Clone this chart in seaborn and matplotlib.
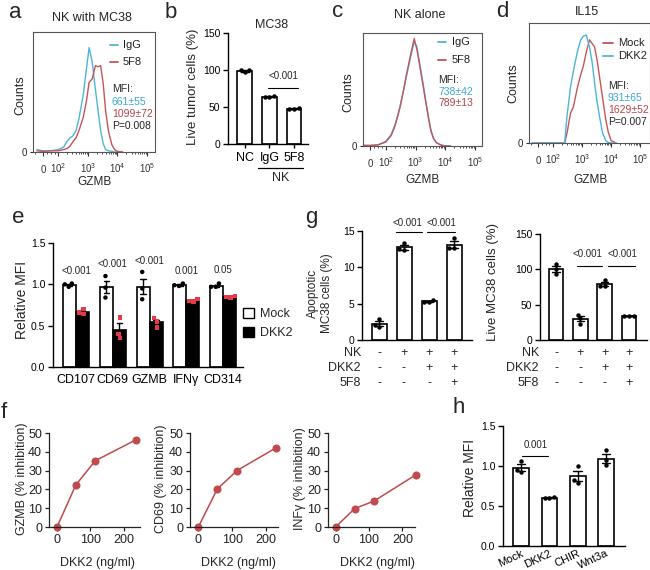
import numpy as np
import pandas as pd
import matplotlib
matplotlib.use("Agg")
import matplotlib.pyplot as plt
from matplotlib.lines import Line2D
from matplotlib.patches import Patch
from matplotlib.ticker import FixedLocator, NullFormatter
from matplotlib.transforms import blended_transform_factory
import seaborn as sns

# ---------------- data ----------------
# flow histograms: GZMB intensity grid and normalised counts
flow_gzmb = [-40, 0, 50, 100, 150, 200, 250, 300, 400, 500, 700, 900, 1100, 1400,
             1800, 2200, 2700, 3300, 4000, 5000, 6500, 8000, 10000, 15000]
a_igg = [0.02, 0.01, 0.01, 0.02, 0.04, 0.09, 0.12, 0.13, 0.18, 0.28, 0.48, 0.70,
         0.87, 0.75, 0.52, 0.35, 0.18, 0.07, 0.02, 0.01, 0.005, 0, 0, 0]
a_5f8 = [0.01, 0.005, 0.01, 0.01, 0.02, 0.03, 0.05, 0.08, 0.12, 0.18, 0.29, 0.43,
         0.58, 0.61, 0.72, 0.71, 0.72, 0.57, 0.34, 0.17, 0.06, 0.02, 0.005, 0]
c_igg = [0.005, 0.005, 0.01, 0.04, 0.10, 0.18, 0.27, 0.35, 0.50, 0.62, 0.80, 0.92,
         0.88, 0.72, 0.55, 0.40, 0.26, 0.14, 0.07, 0.03, 0.015, 0.005, 0, 0]
c_5f8 = [0.005, 0.005, 0.01, 0.035, 0.09, 0.17, 0.26, 0.34, 0.50, 0.64, 0.82, 0.95,
         0.86, 0.70, 0.53, 0.39, 0.25, 0.13, 0.065, 0.03, 0.012, 0.005, 0, 0]
d_mock = [0, 0, 0, 0, 0, 0, 0, 0.08, 0.25, 0.30, 0.47, 0.57, 0.64, 0.76, 0.86,
          0.83, 0.80, 0.69, 0.55, 0.39, 0.20, 0.09, 0.02, 0]
d_dkk2 = [0, 0, 0, 0, 0, 0, 0, 0.22, 0.47, 0.60, 0.77, 0.86, 0.89, 0.90, 0.80,
          0.68, 0.50, 0.34, 0.22, 0.09, 0.02, 0.005, 0, 0]
flow_ticks = [0, 1e2, 1e3, 1e4, 1e5]
flow_ticklabels = ['0', '$10^2$', '$10^3$', '$10^4$', '$10^5$']
a_mfi = ['661±55', '1099±72', 'P=0.008']
c_mfi = ['738±42', '789±13']
d_mfi = ['931±65', '1629±52', 'P=0.007']

# b: live tumor cells
b_groups = ['NC', 'IgG', '5F8']
b_values = [[100.5, 97.0, 99.5], [65.0, 63.5, 64.0], [48.5, 47.5, 47.8]]

# e: relative MFI
e_markers = ['CD107', 'CD69', 'GZMB', 'IFNγ', 'CD314']
e_mock = [[1.00, 0.97, 1.01], [1.10, 0.96, 0.84], [1.15, 0.95, 0.82],
          [1.01, 0.99, 0.98], [1.01, 0.97, 0.97]]
e_dkk2 = [[0.70, 0.66, 0.64], [0.60, 0.40, 0.35], [0.59, 0.55, 0.48],
          [0.82, 0.80, 0.79], [0.86, 0.85, 0.84]]
e_pvals = ['<0.001', '<0.001', '<0.001', '0.001', '0.05']
e_pval_y = [1.16, 1.25, 1.28, 1.16, 1.17]

# g: apoptotic / live MC38
g_conditions = ['c1', 'c2', 'c3', 'c4']
g_apop = [[2.9, 2.0, 1.8], [13.3, 12.5, 12.4], [5.5, 5.2, 5.2], [14.0, 12.7, 12.7]]
g_live = [[107, 100, 93], [36, 31, 23], [85, 76, 76], [34.5, 34.0, 33.5]]
g_nk = ['-', '+', '+', '+']
g_dkk2 = ['-', '-', '+', '+']
g_5f8 = ['-', '-', '-', '+']

# f: dose response
f_dose_gzmb = [0, 56, 114, 236]
f_gzmb = [0, 22.3, 35.2, 46.4]
f_dose_cd69 = [0, 56, 114, 228]
f_cd69 = [0, 20.2, 30.0, 42.0]
f_dose_ifng = [0, 57, 115, 240]
f_ifng = [0, 9.8, 13.8, 27.7]

# h: relative MFI
h_groups = ['Mock', 'DKK2', 'CHIR', 'Wnt3a']
h_values = [[1.06, 0.95, 0.93], [0.61, 0.60, 0.60], [1.00, 0.83, 0.79], [1.20, 1.07, 1.01]]

# ---------------- style ----------------
sns.set_theme(style="ticks")
plt.rcParams['font.family'] = ['Liberation Sans', 'DejaVu Sans']
plt.rcParams['mathtext.fontset'] = 'custom'
plt.rcParams['mathtext.rm'] = 'Liberation Sans'
plt.rcParams['mathtext.it'] = 'Liberation Sans'
plt.rcParams['axes.linewidth'] = 1.0

CYAN = '#4cb6d8'
RED = '#c6545a'
CYAN_T = '#3aa6d2'
RED_T = '#b5434c'
LINE_RED = '#c04a4d'
SQ_RED = '#e23a48'

W, H = 650, 570
fig = plt.figure(figsize=(W / 100, H / 100), dpi=100)


def add_ax(x0, y0, x1, y1):
    return fig.add_axes([x0 / W, 1 - y1 / H, (x1 - x0) / W, (y1 - y0) / H])


def ftext(x, y, s, **kw):
    return fig.text(x / W, 1 - y / H, s, **kw)


def fline(x0, x1, y, **kw):
    fig.add_artist(Line2D([x0 / W, x1 / W], [1 - y / H, 1 - y / H], **kw))


def ylabel_at(ax, text, x, y, size=10, **kw):
    ax.set_ylabel(text, fontsize=size, **kw)
    ax.yaxis.set_label_coords(x / W, 1 - y / H, transform=fig.transFigure)
    ax.yaxis.label.set_va('center')
    ax.yaxis.label.set_ha('center')


def xlabel_at(ax, text, x, y, size=9, **kw):
    ax.set_xlabel(text, fontsize=size, **kw)
    ax.xaxis.set_label_coords(x / W, 1 - y / H, transform=fig.transFigure)
    ax.xaxis.label.set_va('center')


minor_flow = [-50, 25, 50, 75] + [k * 10 ** e for e in (2, 3, 4) for k in range(2, 10)]


def flow_panel(box, curves, colors, xlim):
    ax = add_ax(*box)
    for yv, c in zip(curves, colors):
        sns.lineplot(x=flow_gzmb, y=yv, ax=ax, color=c, lw=1.0, estimator=None)
    ax.set_xscale('symlog', linthresh=100, linscale=0.468)
    ax.set_xlim(*xlim)
    ax.set_ylim(0, 1)
    ax.set_xticks(flow_ticks)
    ax.set_xticklabels(flow_ticklabels)
    ax.xaxis.set_minor_locator(FixedLocator(minor_flow))
    ax.xaxis.set_minor_formatter(NullFormatter())
    ax.set_yticks([0])
    ax.set_yticklabels(['0'])
    ax.tick_params(axis='x', which='major', length=3, width=0.8, labelsize=7, pad=12, colors='#333333')
    ax.tick_params(axis='x', which='minor', length=1.6, width=0.6, colors='#333333')
    ax.tick_params(axis='y', length=2, width=0.8, labelsize=7, pad=2)
    for lab in ax.get_xticklabels():
        lab.set_va('baseline')
    for s in ax.spines.values():
        s.set_color('#555555')
        s.set_linewidth(0.8)
    return ax


def flow_legend(xl0, xl1, xt, ys, labels, colors):
    for y, lab, c in zip(ys, labels, colors):
        fline(xl0, xl1, y, color=c, lw=1.3)
        ftext(xt, y, lab, fontsize=8, va='center', ha='left', color='#222222')


def style_bar_axes(ax, xlim, ylim, yticks, xticks_on=False):
    ax.set_xlim(*xlim)
    ax.set_ylim(*ylim)
    ax.set_yticks(yticks)
    sns.despine(ax=ax)
    ax.spines['left'].set_color('black')
    ax.spines['bottom'].set_color('black')
    ax.tick_params(axis='y', length=3.5, width=1, labelsize=7.5, pad=2, colors='black')
    ax.tick_params(axis='x', length=3 if xticks_on else 0, width=1, labelsize=9, pad=3, colors='black')
    ax.set_xlabel('')
    ax.set_ylabel('')


def long_df(groups, values):
    return pd.DataFrame({'group': np.repeat(groups, [len(v) for v in values]),
                         'value': np.concatenate(values)})


def bar_panel(box, groups, values, width):
    df = long_df(groups, values)
    ax = add_ax(*box)
    sns.barplot(data=df, x='group', y='value', order=groups, errorbar='se', capsize=0.3,
                color='white', saturation=1, edgecolor='black', linewidth=1.2, width=width,
                err_kws={'color': 'black', 'linewidth': 1.0}, ax=ax)
    sns.swarmplot(data=df, x='group', y='value', order=groups, color='black', size=3.2, ax=ax)
    return ax


# ---------------- panel a ----------------
ax_a = flow_panel((33, 32, 155, 152), [a_igg, a_5f8], [CYAN, RED], (-65, 1.87e5))
ylabel_at(ax_a, 'Counts', 20, 95, size=9)
xlabel_at(ax_a, 'GZMB', 94, 182, size=8.5)
ftext(92, 18, 'NK with MC38', fontsize=9, ha='center', va='center')
flow_legend(110, 118, 123, [45, 62], ['IgG', '5F8'], [CYAN, RED])
ftext(112, 89, 'MFI:', fontsize=7.5, va='center')
ftext(112, 102, a_mfi[0], fontsize=7.5, va='center', color=CYAN_T)
ftext(112, 114, a_mfi[1], fontsize=7.5, va='center', color=RED_T)
ftext(112, 126, a_mfi[2], fontsize=7.5, va='center')

# ---------------- panel c ----------------
ax_c = flow_panel((363, 33, 482, 146), [c_igg, c_5f8], [CYAN, RED], (-47, 1.7e5))
ylabel_at(ax_c, 'Counts', 348, 92, size=9)
xlabel_at(ax_c, 'GZMB', 422, 180, size=8.5)
ftext(420, 15, 'NK alone', fontsize=9, ha='center', va='center')
flow_legend(438, 446, 452, [42, 60], ['IgG', '5F8'], [CYAN, RED])
ftext(438, 80, 'MFI:', fontsize=7.5, va='center')
ftext(438, 92, c_mfi[0], fontsize=7.5, va='center', color=CYAN_T)
ftext(438, 103, c_mfi[1], fontsize=7.5, va='center', color=RED_T)

# ---------------- panel d ----------------
ax_d = flow_panel((529, 23, 650, 143), [d_mock, d_dkk2], [RED, CYAN], (-60, 2.2e5))
ylabel_at(ax_d, 'Counts', 513, 83, size=9)
xlabel_at(ax_d, 'GZMB', 590, 180, size=8.5)
ftext(587, 12, 'IL15', fontsize=9, ha='center', va='center')
flow_legend(603, 613, 618, [43, 56], ['Mock', 'DKK2'], [RED, CYAN])
ftext(608, 86, 'MFI:', fontsize=7.5, va='center')
ftext(608, 98, d_mfi[0], fontsize=7.5, va='center', color=CYAN_T)
ftext(608, 110, d_mfi[1], fontsize=7.5, va='center', color=RED_T)
ftext(608, 122, d_mfi[2], fontsize=7.5, va='center')

# ---------------- panel b ----------------
ax_b = bar_panel((228, 33, 308, 144), b_groups, b_values, 0.61)
style_bar_axes(ax_b, (-0.69, 2.57), (0, 150), [0, 50, 100, 150], xticks_on=True)
ylabel_at(ax_b, 'Live tumor cells (%)', 193, 87, size=9.5)
ftext(272, 25, 'MC38', fontsize=9, ha='center', va='center')
ax_b.plot([0.94, 2.16], [76, 76], color='black', lw=0.8, clip_on=False)
ax_b.text(1.55, 92, '<0.001', fontsize=7, ha='center', va='center')
tb = blended_transform_factory(ax_b.transData, fig.transFigure)
ax_b.add_line(Line2D([0.55, 2.35], [1 - 168 / H, 1 - 168 / H], transform=tb, color='black', lw=0.9, clip_on=False))
ax_b.text(1.45, 1 - 178 / H, 'NK', transform=tb, fontsize=9, ha='center', va='center')

# ---------------- panel e ----------------
e_rows = []
for m, mv, dv in zip(e_markers, e_mock, e_dkk2):
    e_rows += [(m, 'Mock', v) for v in mv]
    e_rows += [(m, 'DKK2', v) for v in dv]
df_e = pd.DataFrame(e_rows, columns=['marker', 'cond', 'value'])
ax_e = add_ax(53, 243, 243, 367)
sns.barplot(data=df_e, x='marker', y='value', hue='cond', order=e_markers,
            hue_order=['Mock', 'DKK2'], palette={'Mock': 'white', 'DKK2': 'black'},
            saturation=1, edgecolor='black', linewidth=1.2, width=0.71, errorbar='se',
            capsize=0.3, err_kws={'color': 'black', 'linewidth': 1.0}, legend=False, ax=ax_e)
sns.swarmplot(data=df_e[df_e.cond == 'Mock'], x='marker', y='value', hue='cond', order=e_markers,
              hue_order=['Mock', 'DKK2'], dodge=True, palette={'Mock': 'black', 'DKK2': SQ_RED},
              marker='o', size=3.2, legend=False, ax=ax_e)
sns.swarmplot(data=df_e[df_e.cond == 'DKK2'], x='marker', y='value', hue='cond', order=e_markers,
              hue_order=['Mock', 'DKK2'], dodge=True, palette={'Mock': 'black', 'DKK2': SQ_RED},
              marker='s', size=3.2, legend=False, ax=ax_e)
style_bar_axes(ax_e, (-0.626, 4.54), (0, 1.5), [0, 0.5, 1.0, 1.5])
ax_e.set_yticklabels(['0.0', '0.5', '1.0', '1.5'])
ax_e.tick_params(axis='x', pad=5)
ylabel_at(ax_e, 'Relative MFI', 22, 300, size=10)
for i, (p, y) in enumerate(zip(e_pvals, e_pval_y)):
    ax_e.text(i, y, p, fontsize=7, ha='center', va='center')
fig.legend(handles=[Patch(facecolor='white', edgecolor='black', lw=1),
                    Patch(facecolor='black', edgecolor='black', lw=1)],
           labels=['Mock', 'DKK2'], loc='upper left', bbox_to_anchor=(243 / W, 1 - 308 / H),
           frameon=False, fontsize=9, handlelength=0.85, handleheight=0.85,
           handletextpad=0.5, labelspacing=0.5, borderpad=0, borderaxespad=0)

# ---------------- panel g ----------------
def table_rows(ax, ypx, rows, names):
    tr = blended_transform_factory(ax.transData, fig.transFigure)
    tl = blended_transform_factory(ax.transAxes, fig.transFigure)
    for y, row, name in zip(ypx, rows, names):
        ax.text(-0.01, 1 - y / H, name, transform=tl, fontsize=9, ha='right', va='center')
        for i, s in enumerate(row):
            ax.text(i, 1 - y / H, s, transform=tr, fontsize=9, ha='center', va='center')


ax_g1 = bar_panel((362, 231, 472, 340), g_conditions, g_apop, 0.6)
style_bar_axes(ax_g1, (-0.68, 3.72), (0, 15), [0, 5, 10, 15])
ax_g1.set_xticklabels([])
ylabel_at(ax_g1, 'Apoptotic\nMC38 cells (%)', 320, 293, size=8.5, linespacing=1.15)
for (x0, x1), xt in zip([(0.68, 1.72), (1.92, 3.04)], [1.15, 2.48]):
    ax_g1.plot([x0, x1], [14.8, 14.8], color='black', lw=0.8, clip_on=False)
    ax_g1.text(xt, 16.1, '<0.001', fontsize=7, ha='center', va='center')
table_rows(ax_g1, [353, 368, 383], [g_nk, g_dkk2, g_5f8], ['NK', 'DKK2', '5F8'])

ax_g2 = bar_panel((540, 234, 647, 340), g_conditions, g_live, 0.6)
style_bar_axes(ax_g2, (-0.66, 3.74), (0, 150), [0, 50, 100, 150])
ax_g2.set_xticklabels([])
ylabel_at(ax_g2, 'Live MC38 cells (%)', 493, 282, size=9.5)
for (x0, x1), xt in zip([(0.85, 1.88), (2.15, 3.25)], [1.3, 2.72]):
    ax_g2.plot([x0, x1], [105, 105], color='black', lw=0.8, clip_on=False)
    ax_g2.text(xt, 121, '<0.001', fontsize=7, ha='center', va='center')
table_rows(ax_g2, [353, 368, 383], [g_nk, g_dkk2, g_5f8], ['NK', 'DKK2', '5F8'])

# ---------------- panel f ----------------
f_specs = [((49, 433, 140, 527), f_dose_gzmb, f_gzmb, (-24, 248), 'GZMB (% inhibition)', 22, 97),
           ((190, 433, 278, 527), f_dose_cd69, f_cd69, (-24.5, 235), 'CD69 (% inhibition)', 161, 238),
           ((328, 433, 415, 527), f_dose_ifng, f_ifng, (-23, 238), 'INFγ (% inhibition)', 300, 377)]
for box, xd, yd, xlim, ylab, ylx, xlx in f_specs:
    ax = add_ax(*box)
    sns.lineplot(x=xd, y=yd, ax=ax, color=LINE_RED, lw=1.1, marker='o', markersize=5.8,
                 markeredgewidth=0, estimator=None, clip_on=False)
    ax.set_xlim(*xlim)
    ax.set_ylim(0, 50)
    ax.set_xticks([0, 100, 200])
    ax.set_yticks([0, 10, 20, 30, 40, 50])
    sns.despine(ax=ax)
    for s in ('left', 'bottom'):
        ax.spines[s].set_color('#222222')
        ax.spines[s].set_linewidth(0.9)
    ax.tick_params(length=3, width=0.9, labelsize=9, pad=2, colors='#222222')
    ylabel_at(ax, ylab, ylx, 479, size=9)
    xlabel_at(ax, 'DKK2 (ng/ml)', xlx, 563, size=9)

# ---------------- panel h ----------------
ax_h = bar_panel((503, 426, 625, 546), h_groups, h_values, 0.55)
style_bar_axes(ax_h, (-0.64, 3.67), (0, 1.5), [0, 0.5, 1.0, 1.5])
ax_h.set_yticklabels(['0.0', '0.5', '1.0', '1.5'])
for lab in ax_h.get_xticklabels():
    lab.set_rotation(25)
    lab.set_ha('right')
    lab.set_rotation_mode('anchor')
    lab.set_fontsize(8)
ax_h.tick_params(axis='x', pad=1.5)
ylabel_at(ax_h, 'Relative MFI', 470, 478, size=10)
ax_h.plot([0.04, 0.95], [1.13, 1.13], color='black', lw=0.8, clip_on=False)
ax_h.text(0.5, 1.26, '0.001', fontsize=7, ha='center', va='center')

# ---------------- panel letters ----------------
for s, x, y in [('a', 9, 18), ('b', 165, 18), ('c', 332, 17), ('d', 496, 17),
                ('e', 12, 223), ('g', 305, 223), ('f', 1, 418), ('h', 452, 413)]:
    ftext(x, y, s, fontsize=16, ha='left', va='baseline')

fig.savefig('out.png', dpi=100)
